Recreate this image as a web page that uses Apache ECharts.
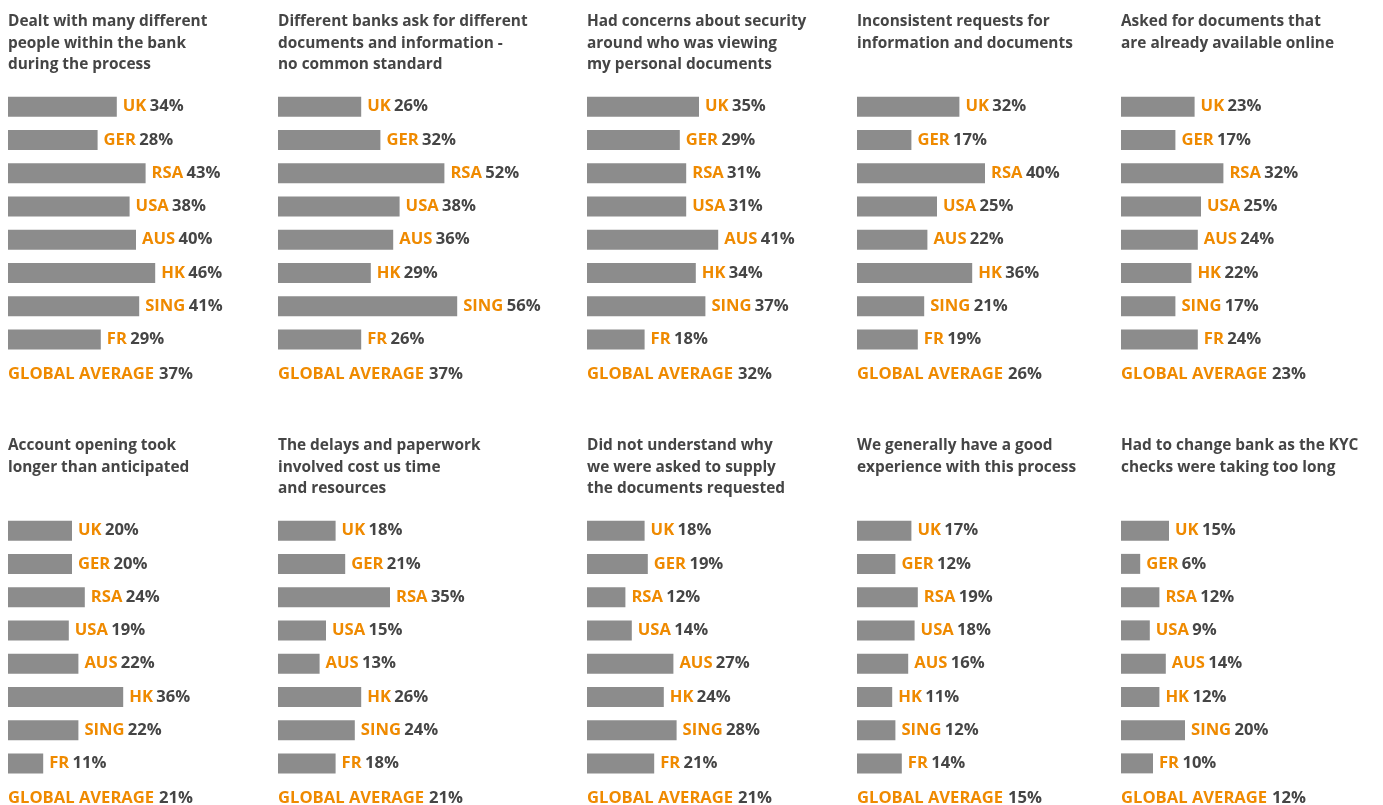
<!DOCTYPE html>
<html lang="en">
<head>
    <meta charset="UTF-8">
    <title>KYC experience by country</title>
    <script src="https://cdn.jsdelivr.net/npm/echarts@6.0.0/dist/echarts.min.js"></script>
    <style>
        * { margin: 0; padding: 0; box-sizing: border-box; }
        html, body { width: 100%; height: 100%; background: #fff; overflow: hidden; }
        #chart { width: 1383px; height: 805px; }
    </style>
</head>
<body>
    <div id="chart"></div>
    <script>
        // data
        const countries = ['UK', 'GER', 'RSA', 'USA', 'AUS', 'HK', 'SING', 'FR'];

        const panelTitles = [
            'Dealt with many different\npeople within the bank\nduring the process',
            'Different banks ask for different\ndocuments and information -\nno common standard',
            'Had concerns about security\naround who was viewing\nmy personal documents',
            'Inconsistent requests for\ninformation and documents',
            'Asked for documents that\nare already available online',
            'Account opening took\nlonger than anticipated',
            'The delays and paperwork\ninvolved cost us time\nand resources',
            'Did not understand why\nwe were asked to supply\nthe documents requested',
            'We generally have a good\nexperience with this process',
            'Had to change bank as the KYC\nchecks were taking too long'
        ];

        const manyPeople     = [34, 28, 43, 38, 40, 46, 41, 29];
        const noStandard     = [26, 32, 52, 38, 36, 29, 56, 26];
        const securityWorry  = [35, 29, 31, 31, 41, 34, 37, 18];
        const inconsistent   = [32, 17, 40, 25, 22, 36, 21, 19];
        const alreadyOnline  = [23, 17, 32, 25, 24, 22, 17, 24];
        const tookLonger     = [20, 20, 24, 19, 22, 36, 22, 11];
        const costTime       = [18, 21, 35, 15, 13, 26, 24, 18];
        const didNotGetWhy   = [18, 19, 12, 14, 27, 24, 28, 21];
        const goodExperience = [17, 12, 19, 18, 16, 11, 12, 14];
        const changedBank    = [15, 6, 12, 9, 14, 12, 20, 10];

        const panelValues = [manyPeople, noStandard, securityWorry, inconsistent, alreadyOnline,
                             tookLonger, costTime, didNotGetWhy, goodExperience, changedBank];
        const globalAverage = [37, 37, 32, 26, 23, 21, 21, 21, 15, 12];

        // layout
        const colX = [8, 278, 587, 857, 1121];
        const rowTitleTop = [11, 435];
        const rowGridTop = [90, 514];
        const rowAvgY = [374, 798];
        const gridHeight = 266;
        const pxPerPct = 3.2;
        const gridWidth = 200;

        const ORANGE = '#ef8a00';
        const DARK = '#454545';
        const BAR = '#8c8c8c';
        const FONT = '"Open Sans", sans-serif';

        const labelRich = {
            c: { color: ORANGE, fontFamily: FONT, fontWeight: 'bold', fontSize: 16.6 },
            v: { color: DARK, fontFamily: FONT, fontWeight: 'bold', fontSize: 16.6 }
        };

        const grid = [], xAxis = [], yAxis = [], series = [], title = [];

        panelValues.forEach((vals, i) => {
            const row = Math.floor(i / 5);
            const col = i % 5;

            grid.push({
                left: colX[col], top: rowGridTop[row],
                width: gridWidth, height: gridHeight
            });
            xAxis.push({
                gridIndex: i, type: 'value', min: 0, max: gridWidth / pxPerPct,
                show: false
            });
            yAxis.push({
                gridIndex: i, type: 'category', data: countries, inverse: true,
                show: false
            });
            series.push({
                type: 'bar', xAxisIndex: i, yAxisIndex: i,
                data: vals, barWidth: 20,
                itemStyle: { color: BAR },
                silent: true,
                label: {
                    show: true, position: 'right', distance: 6,
                    formatter: p => '{c|' + p.name + '} {v|' + p.value + '%}',
                    rich: labelRich
                }
            });

            title.push({
                text: panelTitles[i],
                left: colX[col], top: rowTitleTop[row], padding: 0,
                textStyle: {
                    color: DARK, fontFamily: FONT, fontWeight: 'bold',
                    fontSize: 15.4, lineHeight: 21.5
                }
            });
            title.push({
                text: '{c|GLOBAL AVERAGE} {v|' + globalAverage[i] + '%}',
                left: colX[col], top: rowAvgY[row] - 11, padding: 0,
                textStyle: { rich: labelRich, lineHeight: 22 }
            });
        });

        const chart = echarts.init(document.getElementById('chart'), null, { renderer: 'canvas' });
        chart.setOption({
            animation: false,
            backgroundColor: '#fff',
            title: title,
            grid: grid,
            xAxis: xAxis,
            yAxis: yAxis,
            series: series
        });
    </script>
</body>
</html>
